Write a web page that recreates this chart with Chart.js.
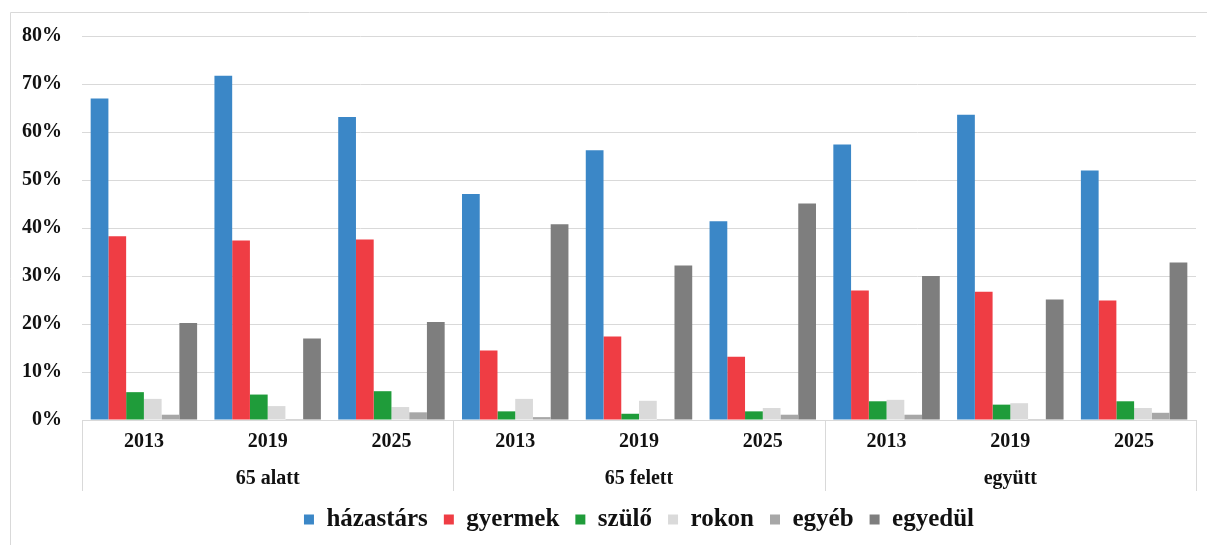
<!DOCTYPE html>
<html>
<head>
<meta charset="utf-8">
<script src="https://cdn.jsdelivr.net/npm/chart.js@4.4.1/dist/chart.umd.min.js"></script>
<style>
  html, body { margin: 0; padding: 0; background: #fff; }
  #wrap { position: relative; width: 1207px; height: 545px; }
</style>
</head>
<body>
<div id="wrap"><canvas id="chart"></canvas></div>
<script>
const years = ["2013", "2019", "2025", "2013", "2019", "2025", "2013", "2019", "2025"];
const groups = ["65 alatt", "65 felett", "együtt"];
const yTicks = [0, 10, 20, 30, 40, 50, 60, 70, 80];

const hazastars = [67.0, 71.7, 63.1, 47.1, 56.2, 41.4, 57.4, 63.6, 52.0];
const gyermek = [38.3, 37.4, 37.6, 14.5, 17.4, 13.2, 27.0, 26.7, 24.9];
const szulo = [5.8, 5.3, 6.0, 1.8, 1.3, 1.8, 3.9, 3.2, 3.9];
const rokon = [4.4, 2.9, 2.7, 4.4, 4.0, 2.5, 4.2, 3.5, 2.5];
const egyeb = [1.1, 0.2, 1.6, 0.6, 0.2, 1.1, 1.1, 0.2, 1.5];
const egyedul = [20.2, 17.0, 20.4, 40.8, 32.2, 45.1, 30.0, 25.1, 32.8];

const serif = "'Liberation Serif', 'DejaVu Serif', serif";
const gridCol = "#d9d9d9";

// light frame round the whole chart, like the Excel chart area
const framePlugin = {
  id: "frame",
  beforeDraw(c) {
    const ctx = c.ctx;
    ctx.save();
    ctx.strokeStyle = gridCol;
    ctx.lineWidth = 1;
    ctx.beginPath();
    ctx.moveTo(10.5, 545);
    ctx.lineTo(10.5, 12.5);
    ctx.lineTo(1207, 12.5);
    ctx.stroke();
    ctx.restore();
  },
};

// vertical separators of the two-level category axis
const groupLines = {
  id: "groupLines",
  afterDraw(c) {
    const x = c.scales.x, x2 = c.scales.x2, ctx = c.ctx;
    const xs = [c.chartArea.left];
    for (let i = 2; i < years.length - 1; i += 3) {
      xs.push((x.getPixelForValue(i) + x.getPixelForValue(i + 1)) / 2);
    }
    xs.push(c.chartArea.right);
    ctx.save();
    ctx.strokeStyle = gridCol;
    ctx.lineWidth = 1;
    xs.forEach((px) => {
      const p = Math.round(px) + 0.5;
      ctx.beginPath();
      ctx.moveTo(p, c.chartArea.bottom);
      ctx.lineTo(p, x2.bottom);
      ctx.stroke();
    });
    ctx.restore();
  },
};

const ds = (label, data, color) => ({
  label,
  data,
  backgroundColor: color,
  borderWidth: 0,
  categoryPercentage: 0.86,
  barPercentage: 1,
});

new Chart(document.getElementById("chart"), {
  type: "bar",
  data: {
    labels: years,
    datasets: [
      ds("házastárs", hazastars, "#3b87c7"),
      ds("gyermek", gyermek, "#ef3d44"),
      ds("szülő", szulo, "#1f9c3a"),
      ds("rokon", rokon, "#dadada"),
      ds("egyéb", egyeb, "#a7a7a7"),
      ds("egyedül", egyedul, "#7e7e7e"),
    ],
  },
  options: {
    responsive: true,
    maintainAspectRatio: false,
    animation: false,
    layout: { padding: { top: 36, right: 11, left: 0, bottom: 3 } },
    scales: {
      y: {
        min: 0,
        max: 80,
        afterFit: (s) => { s.width = 82; },
        afterBuildTicks: (s) => { s.ticks = yTicks.map((v) => ({ value: v })); },
        border: { display: false },
        grid: { color: gridCol, lineWidth: 1, drawTicks: false },
        ticks: {
          padding: 20,
          color: "#111",
          font: { family: serif, size: 20, weight: "bold" },
          callback: (v) => v + "%",
        },
      },
      x: {
        afterFit: (s) => { s.height = 40; },
        grid: { display: false, drawTicks: false },
        border: { display: true, color: gridCol },
        ticks: {
          padding: 10,
          maxRotation: 0,
          color: "#111",
          font: { family: serif, size: 20, weight: "bold" },
        },
      },
      x2: {
        type: "category",
        position: "bottom",
        labels: groups,
        offset: true,
        afterFit: (s) => { s.height = 31; },
        grid: { display: false, drawTicks: false },
        border: { display: false },
        ticks: {
          padding: 7,
          maxRotation: 0,
          color: "#111",
          font: { family: serif, size: 20, weight: "bold" },
        },
      },
    },
    plugins: {
      tooltip: { enabled: false },
      legend: {
        position: "bottom",
        fullSize: false,
        labels: {
          boxWidth: 10,
          boxHeight: 10,
          padding: 16,
          color: "#111",
          font: { family: serif, size: 25, weight: "bold" },
        },
      },
    },
  },
  plugins: [framePlugin, groupLines],
});
</script>
</body>
</html>
